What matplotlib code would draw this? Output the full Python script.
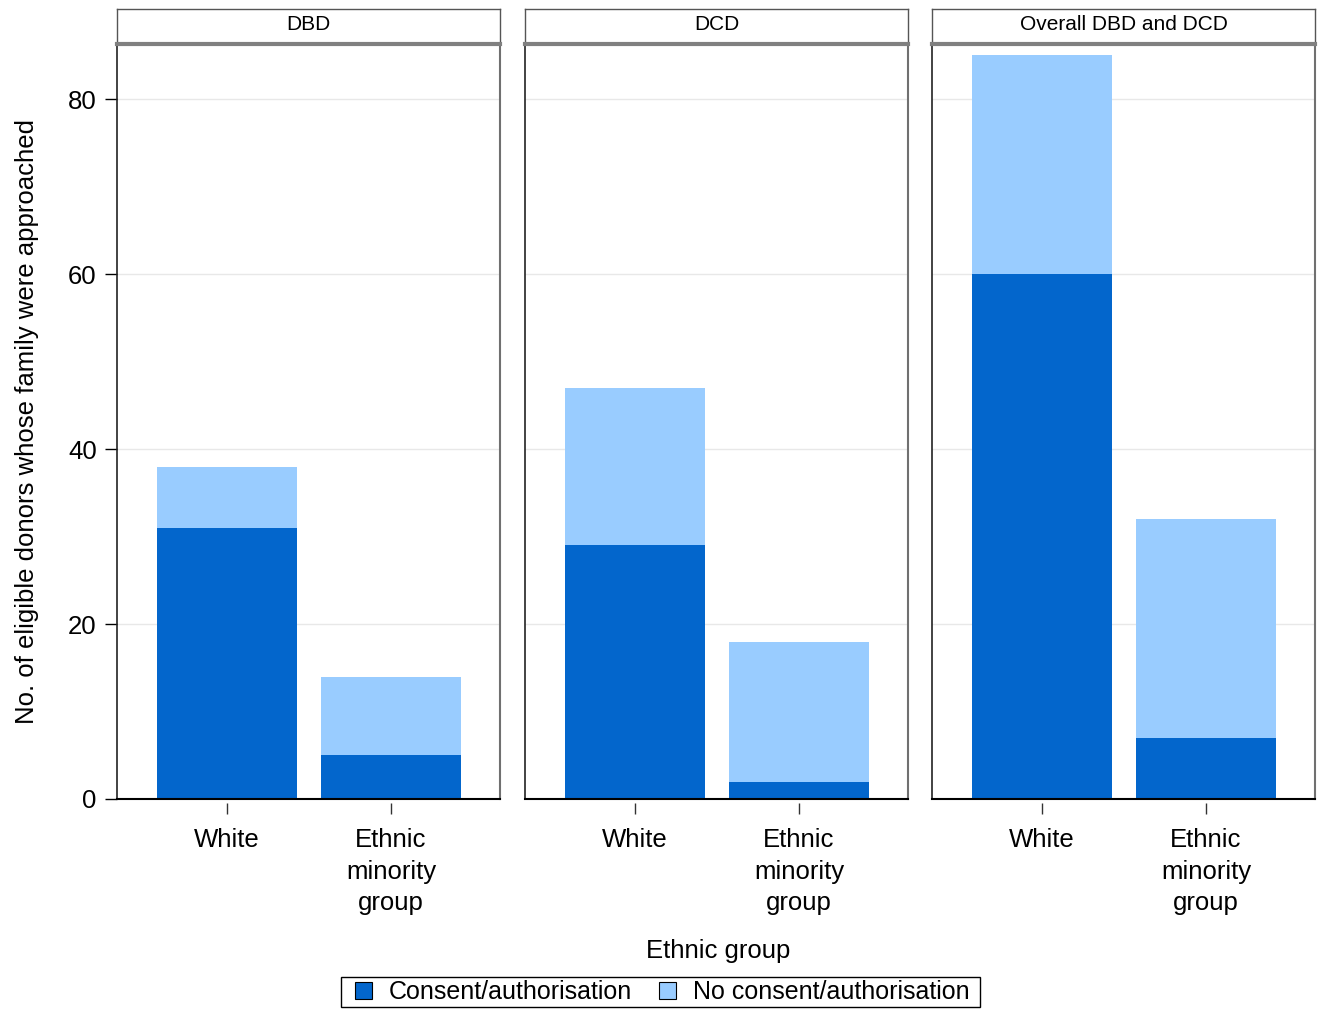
import matplotlib
matplotlib.use("Agg")
import matplotlib.pyplot as plt
from matplotlib.patches import Patch, Rectangle

plt.rcParams['font.family'] = ['Liberation Sans', 'DejaVu Sans']

panels = ["DBD", "DCD", "Overall DBD and DCD"]
categories = ["White", "Ethnic\nminority\ngroup"]
consent = [[31, 5], [29, 2], [60, 7]]
total = [[38, 14], [47, 18], [85, 32]]
no_consent = [[t - c for t, c in zip(tr, cr)] for tr, cr in zip(total, consent)]
series_labels = ["Consent/authorisation", "No consent/authorisation"]
yticks = [0, 20, 40, 60, 80]

c_dark = "#0366CC"
c_light = "#99CCFF"
FS = 18.5

W, H = 1325, 1010
fig = plt.figure(figsize=(W / 100, H / 100), dpi=100)

def px(x0, y0, x1, y1):
    return [x0 / W, 1 - y1 / H, (x1 - x0) / W, (y1 - y0) / H]

lefts = [117, 525, 932]
pw = 383
top, bottom = 44, 799
xs = [0, 1]
for i, name in enumerate(panels):
    ax = fig.add_axes(px(lefts[i], top, lefts[i] + pw, bottom))
    ax.spines['bottom'].set_position(('outward', 3))
    ax.spines['bottom'].set_visible(False)
    ax.bar(xs, consent[i], width=0.854, color=c_dark, zorder=2)
    ax.bar(xs, no_consent[i], bottom=consent[i], width=0.854, color=c_light, zorder=2)
    ax.set_xlim(-0.67, 1.665)
    ax.set_ylim(0, 86.3)
    ax.set_yticks(yticks)
    for yv in yticks[1:]:
        ax.axhline(yv, color="#E8E8E8", lw=1, zorder=1)
    ax.axhline(0, color="black", lw=1.5, zorder=3, clip_on=False)
    ax.set_xticks(xs)
    ax.set_xticklabels(categories, fontsize=FS, linespacing=1.4)
    ax.tick_params(axis='x', length=8, width=1, color="#333333", pad=10)
    ax.spines['left'].set_color("#222222")
    ax.spines['left'].set_linewidth(1.2)
    ax.spines['right'].set_color("#707070")
    ax.spines['right'].set_linewidth(1.5)
    ax.spines['top'].set_visible(False)
    if i == 0:
        ax.tick_params(axis='y', length=8.5, width=1, labelsize=FS, pad=6)
        ax.set_ylabel("No. of eligible donors whose family were approached",
                      fontsize=FS, labelpad=21)
    else:
        ax.tick_params(axis='y', length=0, labelleft=False)
    # strip
    sax = fig.add_axes(px(lefts[i], 9, lefts[i] + pw, 44))
    sax.set_xticks([]); sax.set_yticks([])
    sax.set_xlim(0, 1); sax.set_ylim(0, 1)
    for s in ['top', 'left', 'right']:
        sax.spines[s].set_color("#555555")
        sax.spines[s].set_linewidth(1.0)
    sax.spines['bottom'].set_color("#808080")
    sax.spines['bottom'].set_linewidth(3)
    sax.text(0.5, 0.55, name, ha='center', va='center', fontsize=15)

fig.text(718 / W, 1 - 951 / H, "Ethnic group", ha='center', va='center', fontsize=FS)

handles = [Patch(facecolor=c_dark, edgecolor="black", lw=0.8),
           Patch(facecolor=c_light, edgecolor="black", lw=0.8)]
leg = fig.legend(handles, series_labels, loc='center', ncol=2,
                 bbox_to_anchor=(662 / W, 1 - 992 / H), fontsize=18,
                 frameon=False,
                 handlelength=0.68, handleheight=0.68, handletextpad=0.68,
                 columnspacing=1.08, borderpad=0.1, borderaxespad=0)
fig.patches.append(Rectangle((341 / W, 1 - 1007 / H), (980 - 341) / W, 30 / H,
                             transform=fig.transFigure, fill=False,
                             edgecolor="black", lw=1.0))

fig.savefig("out.png", dpi=100)
